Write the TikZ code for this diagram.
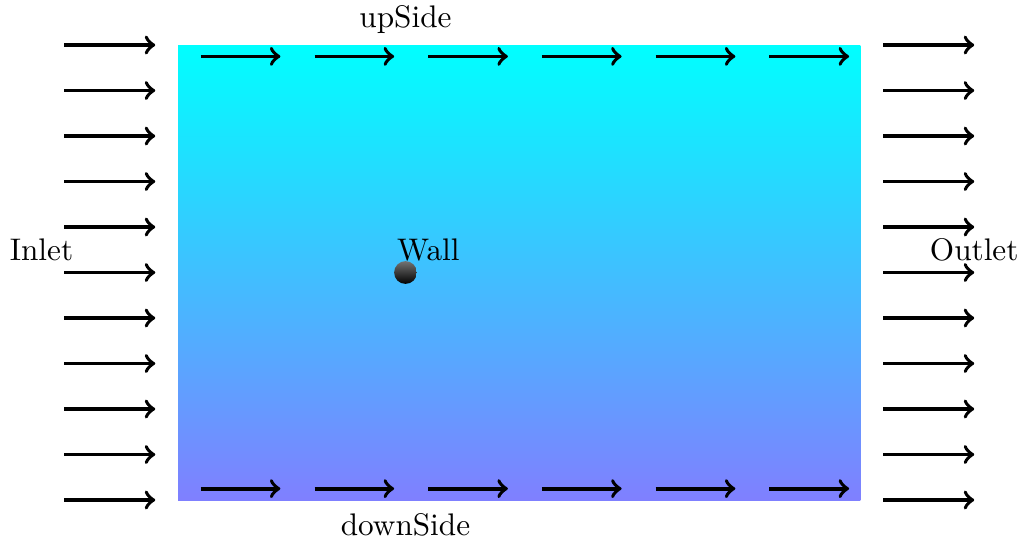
\documentclass[tikz,border=0pt]{standalone}
\usetikzlibrary{shadings}
\begin{document}
\begin{tikzpicture}[x=1.28cm,y=1.28cm,
  flow/.style={->,very thick,black},
  lbl/.style={inner sep=0pt,font=\normalsize}]
\useasboundingbox (-1.565,-0.36) rectangle (7.42,4.396);
% domain
\shade[top color=cyan,bottom color=blue!50] (0,0) rectangle (6,4);
% inlet / outlet arrows
\foreach \i in {0,...,10}{
  \draw[flow] (-1,0.4*\i) -- (-0.2,0.4*\i);
  \draw[flow] (6.2,0.4*\i) -- (7,0.4*\i);
}
% side arrows
\foreach \i in {0,...,5}{
  \draw[flow] (\i+0.2,3.9) -- (\i+0.9,3.9);
  \draw[flow] (\i+0.2,0.1) -- (\i+0.9,0.1);
}
% wall
\shade[top color=black!55,bottom color=black] (2,2) circle (0.1);
\node[lbl] (wall) at (2.2,2.2) {Wall};
\node[lbl] (inlet) at (-1.2,2.2) {Inlet};
\node[lbl] (outlet) at (7,2.2) {Outlet};
\node[lbl] (up) at (2,4.22) {upSide};
\node[lbl] (down) at (2,-0.22) {downSide};
\end{tikzpicture}
\end{document}
